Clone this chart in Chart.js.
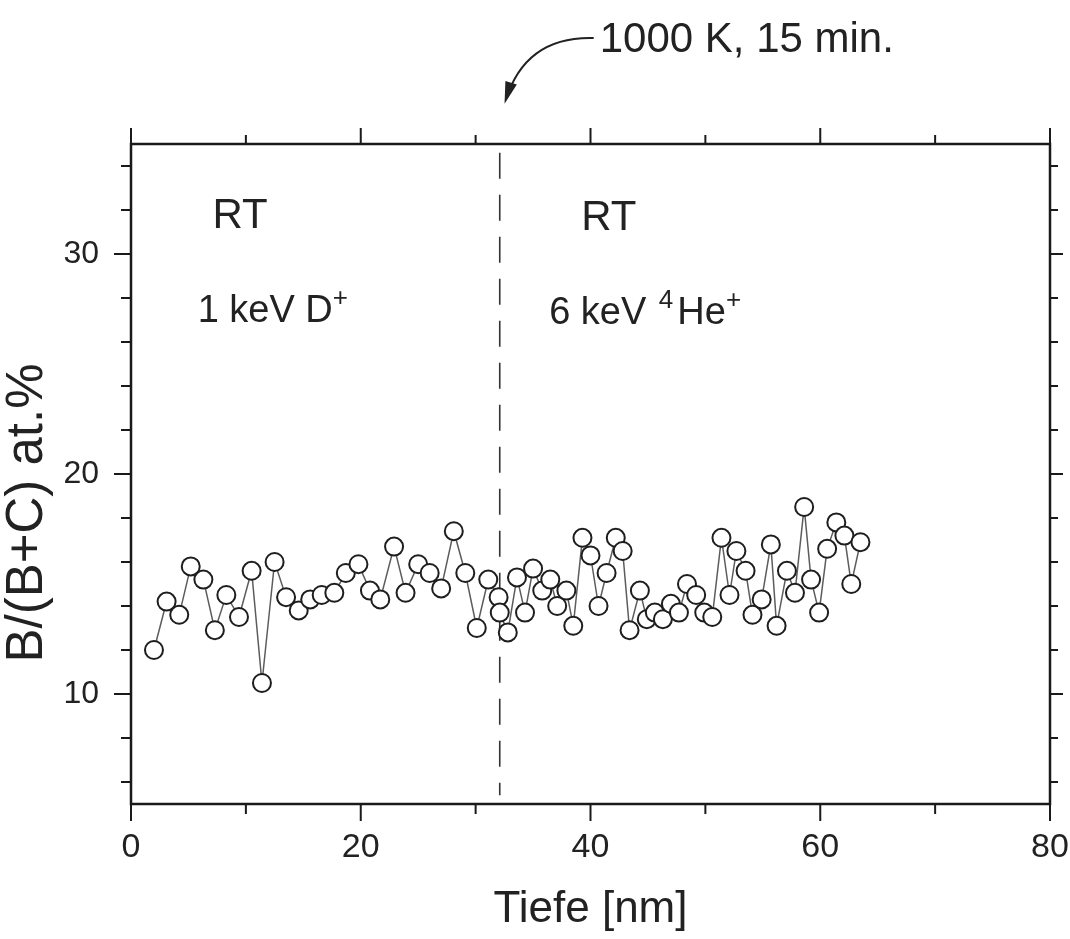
<!DOCTYPE html>
<html>
<head>
<meta charset="utf-8">
<script src="https://cdn.jsdelivr.net/npm/chart.js@4.4.1/dist/chart.umd.min.js"></script>
<style>
  html, body { margin: 0; padding: 0; background: #fff; }
</style>
</head>
<body>
<canvas id="profil" width="1070" height="939"></canvas>
<script>
// Tiefenprofil B/(B+C), RT 1 keV D+ bzw. 6 keV 4He+
var tiefe = [2.0, 3.1, 4.2, 5.2, 6.3, 7.3, 8.3, 9.4, 10.5, 11.4,
             12.5, 13.5, 14.6, 15.6, 16.6, 17.7, 18.7, 19.8, 20.8, 21.7,
             22.9, 23.9, 25.0, 26.0, 27.0, 28.1, 29.1, 30.1, 31.1, 32.0,
             32.1, 32.8, 33.6, 34.3, 35.0, 35.8, 36.5, 37.1, 37.9, 38.5,
             39.3, 40.0, 40.7, 41.4, 42.2, 42.8, 43.4, 44.3, 44.9, 45.6,
             46.3, 47.0, 47.7, 48.4, 49.2, 49.9, 50.6, 51.4, 52.1, 52.7,
             53.5, 54.1, 54.9, 55.7, 56.2, 57.1, 57.8, 58.6, 59.2, 59.9,
             60.6, 61.4, 62.1, 62.7, 63.5];
var anteil = [12.0, 14.2, 13.6, 15.8, 15.2, 12.9, 14.5, 13.5, 15.6, 10.5,
              16.0, 14.4, 13.8, 14.3, 14.5, 14.6, 15.5, 15.9, 14.7, 14.3,
              16.7, 14.6, 15.9, 15.5, 14.8, 17.4, 15.5, 13.0, 15.2, 14.4,
              13.7, 12.8, 15.3, 13.7, 15.7, 14.7, 15.2, 14.0, 14.7, 13.1,
              17.1, 16.3, 14.0, 15.5, 17.1, 16.5, 12.9, 14.7, 13.4, 13.7,
              13.4, 14.1, 13.7, 15.0, 14.5, 13.7, 13.5, 17.1, 14.5, 16.5,
              15.6, 13.6, 14.3, 16.8, 13.1, 15.6, 14.6, 18.5, 15.2, 13.7,
              16.6, 17.8, 17.2, 15.0, 16.9];
var xTicks = [0, 20, 40, 60, 80];
var xMinor = [10, 30, 50, 70];
var yTicks = [10, 20, 30];
var yMinor = [6, 8, 12, 14, 16, 18, 22, 24, 26, 28, 32, 34];
var grenze = 32.1;   // Tempern 1000 K, 15 min.

var schrift = '"Liberation Sans", Arial, Helvetica, sans-serif';

// Text mit Hochstellungen: teile = [[text, hoch, extra], ...]
function textHoch(ctx, teile, x, y, gr) {
  ctx.textAlign = 'left';
  ctx.textBaseline = 'alphabetic';
  teile.forEach(function (t) {
    if (t[1]) {
      ctx.font = Math.round(gr * 0.68) + 'px ' + schrift;
      ctx.fillText(t[0], x, y - gr * 0.42);
    } else {
      ctx.font = gr + 'px ' + schrift;
      ctx.fillText(t[0], x, y);
    }
    x += ctx.measureText(t[0]).width + (t[2] || 0);
  });
}

var rahmen = {
  id: 'rahmen',
  beforeDatasetsDraw: function (chart) {
    var ctx = chart.ctx, a = chart.chartArea;
    var sx = chart.scales.x, sy = chart.scales.y;
    ctx.save();
    ctx.strokeStyle = '#1a1a1a';
    ctx.lineWidth = 2.5;
    ctx.strokeRect(a.left, a.top, a.right - a.left, a.bottom - a.top);

    // Teilstriche nach aussen
    ctx.lineWidth = 2;
    ctx.beginPath();
    xTicks.forEach(function (v) {
      var p = sx.getPixelForValue(v);
      ctx.moveTo(p, a.bottom); ctx.lineTo(p, a.bottom + 17);
      ctx.moveTo(p, a.top); ctx.lineTo(p, a.top - 16);
    });
    xMinor.forEach(function (v) {
      var p = sx.getPixelForValue(v);
      ctx.moveTo(p, a.bottom); ctx.lineTo(p, a.bottom + 10);
      ctx.moveTo(p, a.top); ctx.lineTo(p, a.top - 9);
    });
    yTicks.forEach(function (v) {
      var p = sy.getPixelForValue(v);
      ctx.moveTo(a.left, p); ctx.lineTo(a.left - 17, p);
      ctx.moveTo(a.right, p); ctx.lineTo(a.right + 13, p);
    });
    yMinor.forEach(function (v) {
      var p = sy.getPixelForValue(v);
      ctx.moveTo(a.left, p); ctx.lineTo(a.left - 10, p);
      ctx.moveTo(a.right, p); ctx.lineTo(a.right + 8, p);
    });
    ctx.stroke();

    // gestrichelte Grenze
    var gx = sx.getPixelForValue(grenze);
    ctx.strokeStyle = '#333';
    ctx.lineWidth = 1.6;
    ctx.setLineDash([26, 16]);
    ctx.beginPath();
    ctx.moveTo(gx, sy.getPixelForValue(34.6));
    ctx.lineTo(gx, sy.getPixelForValue(5.4));
    ctx.stroke();
    ctx.setLineDash([]);

    // Beschriftungen im Diagramm
    ctx.fillStyle = '#222';
    ctx.font = '42px ' + schrift;
    ctx.textAlign = 'center';
    ctx.textBaseline = 'alphabetic';
    ctx.fillText('RT', sx.getPixelForValue(9.5), sy.getPixelForValue(31.2));
    ctx.fillText('RT', sx.getPixelForValue(41.6), sy.getPixelForValue(31.1));
    textHoch(ctx, [['1 keV D', false], ['+', true]],
             sx.getPixelForValue(5.8), sy.getPixelForValue(26.9), 38);
    textHoch(ctx, [['6 keV ', false, 2], ['4', true, 4], ['He', false], ['+', true]],
             sx.getPixelForValue(36.4), sy.getPixelForValue(26.8), 38);

    // Pfeil mit Temperangabe
    var tx = sx.getPixelForValue(40.8), ty = a.top - 92;
    ctx.font = '42px ' + schrift;
    ctx.textAlign = 'left';
    ctx.fillText('1000 K, 15 min.', tx, ty);
    var x0 = tx - 6, y0 = ty - 14;
    var x1 = gx + 6, y1 = a.top - 44;
    var cx = x1 + 20, cy = y0 - 2;
    ctx.strokeStyle = '#222';
    ctx.lineWidth = 2;
    ctx.beginPath();
    ctx.moveTo(x0, y0);
    ctx.quadraticCurveTo(cx, cy, x1, y1);
    ctx.stroke();
    var w = Math.atan2(y1 - cy, x1 - cx);
    ctx.beginPath();
    ctx.moveTo(x1 + 4 * Math.cos(w), y1 + 4 * Math.sin(w));
    ctx.lineTo(x1 - 18 * Math.cos(w) + 6 * Math.sin(w), y1 - 18 * Math.sin(w) - 6 * Math.cos(w));
    ctx.lineTo(x1 - 18 * Math.cos(w) - 6 * Math.sin(w), y1 - 18 * Math.sin(w) + 6 * Math.cos(w));
    ctx.closePath();
    ctx.fillStyle = '#222';
    ctx.fill();

    // y-Achsentitel
    ctx.save();
    ctx.translate(28, 513);
    ctx.rotate(-Math.PI / 2);
    ctx.font = '51px ' + schrift;
    ctx.textAlign = 'center';
    ctx.textBaseline = 'middle';
    ctx.fillText('B/(B+C) at.%', 0, 0);
    ctx.restore();

    ctx.restore();
  }
};

var ctx = document.getElementById('profil').getContext('2d');
var profil = new Chart(ctx, {
  type: 'scatter',
  data: {
    datasets: [{
      data: tiefe.map(function (t, i) { return { x: t, y: anteil[i] }; }),
      showLine: true,
      borderColor: '#5c5c5c',
      borderWidth: 1.5,
      pointRadius: 9,
      pointBorderWidth: 2,
      pointBackgroundColor: '#ffffff',
      pointBorderColor: '#1e1e1e'
    }]
  },
  options: {
    responsive: false,
    animation: false,
    devicePixelRatio: 1,
    layout: { padding: { top: 144, right: 20, left: 0, bottom: 0 } },
    plugins: { legend: { display: false }, tooltip: { enabled: false } },
    scales: {
      x: {
        type: 'linear', min: 0, max: 80,
        grid: { display: false },
        border: { display: false },
        afterBuildTicks: function (s) { s.ticks = xTicks.map(function (v) { return { value: v }; }); },
        afterFit: function (s) { s.height = 135; s.paddingLeft = 0; s.paddingRight = 0; },
        ticks: {
          font: { family: schrift, size: 34 }, color: '#222',
          padding: 15, maxRotation: 0, autoSkip: false
        },
        title: {
          display: true, text: 'Tiefe [nm]', color: '#222',
          font: { family: schrift, size: 44 },
          padding: { top: 0, bottom: 3 }
        }
      },
      y: {
        type: 'linear', min: 5, max: 35,
        grid: { display: false },
        border: { display: false },
        afterBuildTicks: function (s) { s.ticks = yTicks.map(function (v) { return { value: v }; }); },
        afterFit: function (s) { s.width = 131; s.paddingTop = 0; s.paddingBottom = 0; },
        ticks: {
          font: { family: schrift, size: 32 }, color: '#222',
          padding: 24, autoSkip: false
        }
      }
    }
  },
  plugins: [rahmen]
});
</script>
</body>
</html>
